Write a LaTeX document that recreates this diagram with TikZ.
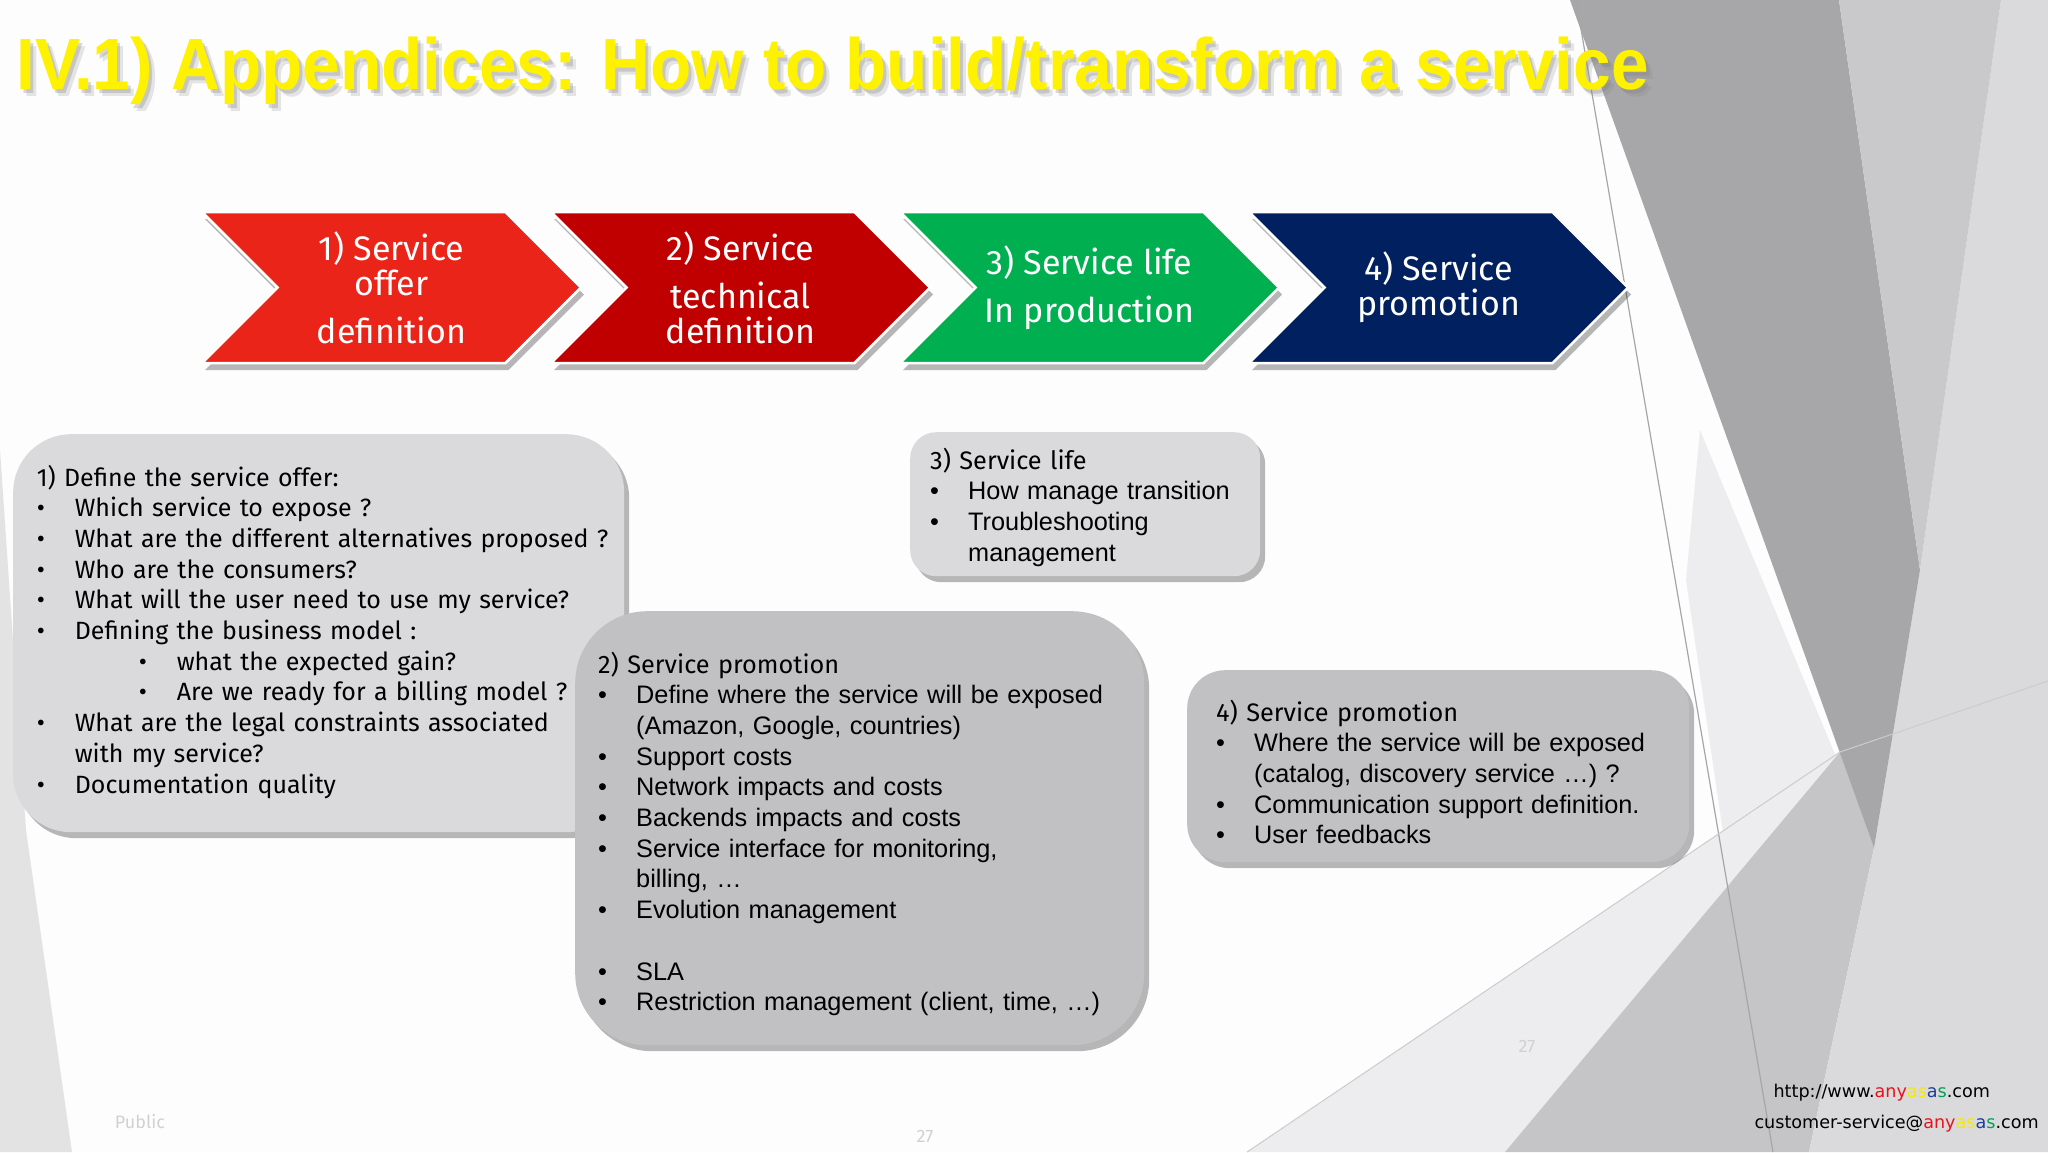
\documentclass[tikz,border=0pt]{standalone}
\usepackage{fontspec}
\setmainfont{Liberation Sans}
\newfontfamily\trebfont{Fira Sans}
\newfontfamily\titlefont[FakeStretch=0.93]{Liberation Sans}
\newfontfamily\urlfont{DejaVu Sans}
\usetikzlibrary{shapes.symbols,shadows}

\definecolor{offerred}{HTML}{EA2418}
\definecolor{techred}{HTML}{C00000}
\definecolor{lifegreen}{HTML}{00B050}
\definecolor{promonavy}{HTML}{002060}
\definecolor{boxlight}{HTML}{DADADC}
\definecolor{boxmid}{HTML}{C1C0C3}
\definecolor{slidebg}{HTML}{FDFDFD}
\definecolor{facetdark}{HTML}{A7A7A9}
\definecolor{facetband}{HTML}{C9C9CB}
\definecolor{facetlight}{HTML}{DADADC}
\definecolor{facetmid}{HTML}{C5C5C7}
\definecolor{facetfaint}{HTML}{EDEDEF}
\definecolor{anyred}{HTML}{E8141B}
\definecolor{anyyellow}{HTML}{F5EA00}
\definecolor{anyblue}{HTML}{1F3C99}
\definecolor{anygreen}{HTML}{00A050}

\newcommand{\boxfont}{\fontsize{25.3}{30.7}\selectfont}
\newcommand{\dotitem}[1]{\mbox{\makebox[38pt][l]{\textbullet}#1}}
\newcommand{\subdotitem}[1]{\mbox{\hspace*{102pt}\makebox[38pt][l]{\textbullet}#1}}
\newcommand{\contline}[1]{\mbox{\hspace*{38pt}#1}}

\begin{document}
\begin{tikzpicture}[x=1pt,y=-1pt,
  stepchev/.style={signal,signal to=east,signal from=west,signal pointer angle=90,
    minimum width=379,minimum height=151,inner sep=0,draw=white,line width=2.5,
    text=white,align=center,font=\trebfont\fontsize{34}{35}\selectfont,
    drop shadow={shadow xshift=3pt,shadow yshift=-7pt,fill=black,opacity=.28}},
  infobox/.style={anchor=north west,
    drop shadow={shadow xshift=5pt,shadow yshift=-6pt,fill=black,opacity=.28}},
  boxtext/.style={anchor=base west,align=left,inner sep=0,text width=560,font=\boxfont},
  faint/.style={text=black!18,font=\trebfont\fontsize{18}{20}\selectfont}]

  % slide background
  \useasboundingbox (0,0) rectangle (2048,1152);
  \fill[slidebg] (0,0) rectangle (2048,1152);
  \fill[black!11] (0,450) -- (26,830) -- (72,1152) -- (0,1152) -- cycle;
  \fill[facetfaint] (1700,430) -- (1874,848) -- (1730,880) -- (1686,580) -- cycle;
  \fill[facetfaint] (1247,1152) -- (1840,752) -- (1505,1152) -- cycle;
  \fill[facetmid] (1505,1152) -- (1840,752) -- (1874,848) -- (1809,1152) -- cycle;
  \fill[facetlight] (2001,0) -- (2048,0) -- (2048,1152) -- (1809,1152) -- (1874,848) -- (1920,570) -- cycle;
  \fill[facetdark] (1570,0) -- (1839,0) -- (1920,570) -- (1874,848) -- cycle;
  \fill[facetband] (1839,0) -- (2001,0) -- (1920,570) -- cycle;
  \draw[black!35,line width=1.2] (1576,0) -- (1773,1152);
  \draw[black!20,line width=1] (1247,1152) -- (1840,752) -- (2048,681);

  % title
  \node[anchor=base west,text=black!50,opacity=.2,font=\titlefont\bfseries\fontsize{72.6}{80}\selectfont]
    (titleblur) at (19,96) {IV.1) Appendices: How to build/transform a service};
  \node[anchor=base west,text=black!50,opacity=.3,font=\titlefont\bfseries\fontsize{72.6}{80}\selectfont]
    (titleshade) at (16,93) {IV.1) Appendices: How to build/transform a service};
  \node[anchor=base west,text=yellow,font=\titlefont\bfseries\fontsize{72.6}{80}\selectfont]
    (title) at (13,89) {IV.1) Appendices: How to build/transform a service};

  % steps
  \node[stepchev,fill=offerred] (offerstep) at (391.5,287.5) {1) Service\\offer\\[13pt]definition};
  \node[stepchev,fill=techred] (techstep) at (740.5,287.5) {2) Service\\[13pt]technical\\definition};
  \node[stepchev,fill=lifegreen] (lifestep) at (1089.5,287.5) {3) Service life\\[13pt]In production};
  \node[stepchev,fill=promonavy] (promostep) at (1438.5,287.5) {4) Service\\promotion};

  % detail boxes
  \node[infobox,fill=boxlight,rounded corners=58,minimum width=611,minimum height=398] (offerbox) at (13,434) {};
  \node[infobox,fill=boxmid,rounded corners=72,minimum width=569,minimum height=434] (techbox) at (575,611) {};
  \node[infobox,fill=boxlight,rounded corners=26,minimum width=350,minimum height=144] (lifebox) at (910,432) {};
  \node[infobox,fill=boxmid,rounded corners=38,minimum width=502,minimum height=192] (promobox) at (1187,670) {};

  \node[boxtext,font=\trebfont\fontsize{25}{30.7}\selectfont] (offertext) at (36.6,486)
    {\mbox{1) Define the service offer:}\\
     \dotitem{Which service to expose ?}\\
     \dotitem{What are the different alternatives proposed ?}\\
     \dotitem{Who are the consumers?}\\
     \dotitem{What will the user need to use my service?}\\
     \dotitem{Defining the business model :}\\
     \subdotitem{what the expected gain?}\\
     \subdotitem{Are we ready for a billing model ?}\\
     \dotitem{What are the legal constraints associated}\\
     \contline{with my service?}\\
     \dotitem{Documentation quality}};

  \node[boxtext] (techtext) at (598,673)
    {{\trebfont\mbox{2) Service promotion}}\\
     \dotitem{Define where the service will be exposed}\\
     \contline{(Amazon, Google, countries)}\\
     \dotitem{Support costs}\\
     \dotitem{Network impacts and costs}\\
     \dotitem{Backends impacts and costs}\\
     \dotitem{Service interface for monitoring,}\\
     \contline{billing, \dots}\\
     \dotitem{Evolution management}\\
     \mbox{}\\
     \dotitem{SLA}\\
     \dotitem{Restriction management (client, time, \dots)}};

  \node[boxtext] (lifetext) at (930,469)
    {{\trebfont\mbox{3) Service life}}\\
     \dotitem{How manage transition}\\
     \dotitem{Troubleshooting}\\
     \contline{management}};

  \node[boxtext] (promotext) at (1216,721)
    {{\trebfont\mbox{4) Service promotion}}\\
     \dotitem{Where the service will be exposed}\\
     \contline{(catalog, discovery service \dots) ?}\\
     \dotitem{Communication support definition.}\\
     \dotitem{User feedbacks}};

  % footer
  \node[faint] (public) at (140,1122) {Public};
  \node[faint] (pagenum) at (925,1136) {27};
  \node[faint] (pagenumtop) at (1527,1046) {27};
  \node[anchor=base west,font=\urlfont\fontsize{17.6}{20}\selectfont] (web) at (1770,1097)
    {http://www.\textcolor{anyred}{any}\textcolor{anyyellow}{as}\textcolor{anyblue}{a}\textcolor{anygreen}{s}.com};
  \node[anchor=base west,font=\urlfont\fontsize{17.6}{20}\selectfont] (mail) at (1751,1128)
    {customer-service@\textcolor{anyred}{any}\textcolor{anyyellow}{as}\textcolor{anyblue}{a}\textcolor{anygreen}{s}.com};
\end{tikzpicture}
\end{document}
